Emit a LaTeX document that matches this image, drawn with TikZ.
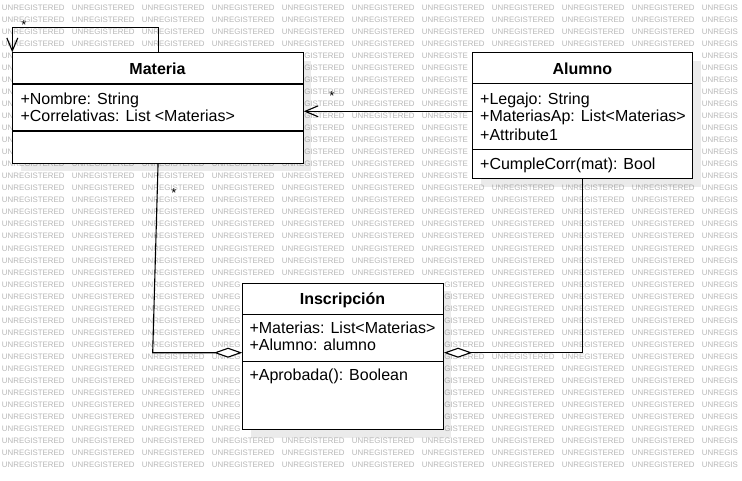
\documentclass[tikz,border=0pt]{standalone}
\usepackage{fontspec}
\setmainfont{Liberation Sans}
\usetikzlibrary{arrows.meta,calc,shadows}
\begin{document}
\begin{tikzpicture}[x=1pt,y=-1pt,
  wm/.style={font=\fontsize{7.9}{7.9}\selectfont, text=black!28, inner sep=0pt, anchor=west},
  umlbox/.style={draw=black, fill=white, line width=1.1pt, inner sep=0pt, anchor=north west,
    drop shadow={shadow xshift=8pt,shadow yshift=-8pt,fill=black,opacity=0.08}},
  sepline/.style={line width=1.1pt},
  ttl/.style={font=\bfseries\fontsize{16}{18}\selectfont, inner sep=0pt, anchor=base},
  attr/.style={font=\fontsize{16}{18}\selectfont, inner sep=0pt, anchor=base west},
  mult/.style={font=\fontsize{13}{13}\selectfont, inner sep=0pt, anchor=base},
  conn/.style={line width=1.1pt},
  navarrow/.style={-{Straight Barb[length=13pt,width=11pt]}},
  aggr/.style={-{Diamond[length=28.5pt,width=10pt,fill=white]}}
]
\useasboundingbox (0,0) rectangle (742,480);
\fill[white] (0,0) rectangle (742,480);

% watermark (only the parts that are not hidden by the class boxes)
\foreach \r in {0,...,38} {
  \foreach \c in {0,...,10} {
    \def\wmt{UNREGISTERED}\def\wmx{0}%
    \ifnum\c=10 \def\wmt{UNREGIS}\fi
    % behind Materia
    \ifnum\r>3 \ifnum\r<13
      \ifnum\c=0 \def\wmt{UN}\fi
      \ifnum\c>0 \ifnum\c<4 \def\wmt{}\fi\fi
      \ifnum\c=4 \def\wmt{GISTERED}\def\wmx{22.37}\fi
    \fi\fi
    % behind Alumno
    \ifnum\r>3 \ifnum\r<15
      \ifnum\c=6 \def\wmt{UNREGISTE}\fi
      \ifnum\c>6 \ifnum\c<10 \def\wmt{}\fi\fi
    \fi\fi
    % behind Inscripcion
    \ifnum\r>22 \ifnum\r<36
      \ifnum\c=3 \def\wmt{UNREG}\fi
      \ifnum\c>3 \ifnum\c<6 \def\wmt{}\fi\fi
      \ifnum\c=6 \def\wmt{GISTERED}\def\wmx{22.37}\fi
    \fi\fi
    \ifx\wmt\empty\else
      \node[wm] (wm-\r-\c) at ({1.7+70*\c+\wmx},{7.5+12.04*\r}) {\wmt};
    \fi
  }
}

% Materia
\node[umlbox, minimum width=290.4pt, minimum height=110.4pt] (materia) at (12.3,52.3) {};
\draw[sepline] ($(materia.north west)+(0,31.7)$) -- ($(materia.north east)+(0,31.7)$);
\draw[sepline] ($(materia.north west)+(0,78.7)$) -- ($(materia.north east)+(0,78.7)$);
\node[ttl] (materiaT) at (157.5,74) {Materia};
\node[attr] (materiaA1) at (20.3,104) {+Nombre: String};
\node[attr] (materiaA2) at (20.3,121.8) {+Correlativas: List <Materias>};

% Alumno
\node[umlbox, minimum width=220pt, minimum height=126pt] (alumno) at (472.3,52.3) {};
\draw[sepline] ($(alumno.north west)+(0,31)$) -- ($(alumno.north east)+(0,31)$);
\draw[sepline] ($(alumno.north west)+(0,97)$) -- ($(alumno.north east)+(0,97)$);
\node[ttl] (alumnoT) at (582.3,74) {Alumno};
\node[attr] (alumnoA1) at (480,104) {+Legajo: String};
\node[attr] (alumnoA2) at (480,121.7) {+MateriasAp: List<Materias>};
\node[attr] (alumnoA3) at (480,140) {+Attribute1};
\node[attr] (alumnoM1) at (480,169) {+CumpleCorr(mat): Bool};

% Inscripcion
\node[umlbox, minimum width=200.4pt, minimum height=146.6pt] (insc) at (242.3,282.7) {};
\draw[sepline] ($(insc.north west)+(0,31.7)$) -- ($(insc.north east)+(0,31.7)$);
\draw[sepline] ($(insc.north west)+(0,79)$) -- ($(insc.north east)+(0,79)$);
\node[ttl] (inscT) at (342.5,304.3) {Inscripción};
\node[attr] (inscA1) at (249.3,333.3) {+Materias: List<Materias>};
\node[attr] (inscA2) at (249.3,350.7) {+Alumno: alumno};
\node[attr] (inscM1) at (249.3,380) {+Aprobada(): Boolean};

% connectors
\coordinate (loop) at (12.3,27.5);
\draw[conn, navarrow] (materia.north) |- (loop) -- (materia.north west);
\node[mult] (m1) at (24,29.5) {*};

\draw[conn, navarrow] ($(alumno.north west)+(0,59)$) -- ($(materia.north east)+(0,59)$);
\node[mult] (m2) at (332,100.5) {*};

\coordinate (bend3) at (152.7,352.7);
\draw[conn, aggr] (materia.south) -- (bend3) -- ($(insc.north west)+(0,70)$);
\node[mult] (m3) at (174,197.5) {*};

\draw[conn, aggr] (alumno.south) |- ($(insc.north east)+(0,70)$);
\end{tikzpicture}
\end{document}
